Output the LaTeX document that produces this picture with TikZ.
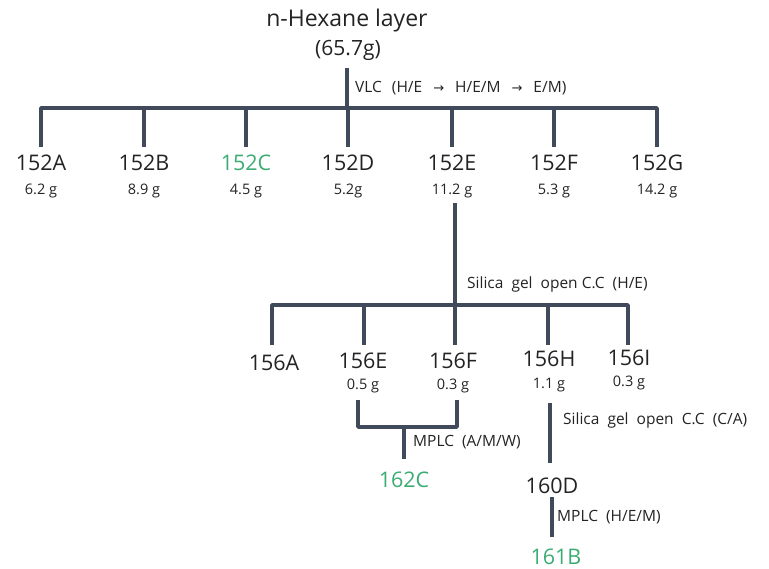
\documentclass[tikz,border=0pt]{standalone}
\usepackage{fontspec}
\setmainfont{Open Sans}
\newfontfamily\arrowfont{DejaVu Sans}
\definecolor{linec}{RGB}{64,74,90}
\definecolor{greenc}{RGB}{60,172,115}
\definecolor{textc}{RGB}{35,35,35}
\newcommand{\ar}{\hspace{11pt}{\arrowfont\fontsize{13}{15}\selectfont →}\hspace{11pt}}
\begin{document}
\begin{tikzpicture}[x=1pt,y=-1pt,
  br/.style={line width=3.8pt, color=linec, line join=round},
  big/.style={inner sep=0pt, text=textc, font=\fontsize{21.5}{24}\selectfont},
  title/.style={inner sep=0pt, text=textc, font=\fontsize{23}{26}\selectfont},
  gram/.style={inner sep=0pt, text=textc, font=\fontsize{14.5}{17}\selectfont},
  note/.style={inner sep=0pt, anchor=west, text=textc, font=\fontsize{15.5}{18}\selectfont},
  hl/.style={text=greenc}]
\useasboundingbox (0,0) rectangle (769,569);
% title
\node[title] (hex) at (347,21) {n-Hexane layer};
\node[title, font=\fontsize{21}{24}\selectfont] (hexw) at (348,50) {(65.7g)};
\coordinate (t0) at (347,68);
\coordinate (t1) at (347,108);
\draw[br] (t0) -- (t1);
\node[note] (vlc) at (355,88) {VLC\hspace{10pt}(H/E\ar H/E/M\ar E/M)};
% first level
\foreach \n/\x/\w/\c in {A/41/6.2 g/textc, B/144/8.9 g/textc, C/246/4.5 g/greenc, D/348/5.2g/textc, E/452/11.2 g/textc, F/554/5.3 g/textc, G/657/14.2 g/textc}{
  \coordinate (d\n) at (\x,147);
  \node[big, text=\c] (L\n) at (\x,163) {152\n};
  \node[gram] (W\n) at (\x,191) {\w};
}
\draw[br] (dA) -- (dA |- t1) -- (dG |- t1) -- (dG);
\foreach \n in {B,C,D,E,F}{ \draw[br] (d\n) -- (d\n |- t1); }
% second level
\coordinate (s0) at (455,203);
\coordinate (s1) at (455,305);
\draw[br] (s0) -- (s1);
\node[note] (sil1) at (467,284) {Silica\ \ gel\ \ open\ C.C\ \ (H/E)};
\foreach \n/\x in {A/272,E/364,F/455,H/548,I/628}{
  \coordinate (e\n) at (\x,345);
}
\draw[br] (eA) -- (eA |- s1) -- (eI |- s1) -- (eI);
\foreach \n in {E,F,H}{ \draw[br] (e\n) -- (e\n |- s1); }
\node[big] (mA) at (274,363) {156A};
\node[big] (mE) at (363,361) {156E};
\node[big] (mF) at (453,361) {156F};
\node[big] (mH) at (549,359) {156H};
\node[big] (mI) at (629,358) {156I};
\node[gram] (gE) at (363,386) {0.5\ g};
\node[gram] (gF) at (453,386) {0.3\ g};
\node[gram] (gH) at (549,385) {1.1\ g};
\node[gram] (gI) at (629,383) {0.3\ g};
% bracket 156E + 156F
\coordinate (bl) at (358,400);
\coordinate (brr) at (457,400);
\coordinate (bm) at (404,427);
\coordinate (bb) at (404,459);
\draw[br] (bl) |- (bm) -| (brr);
\draw[br] (bm) -- (bb);
\node[note] (mplc1) at (413,442) {MPLC\ \ (A/M/W)};
\node[big, hl] (c162) at (404,480) {162C};
% 156H -> 160D
\coordinate (h0) at (550,403);
\coordinate (h1) at (550,463);
\draw[br] (h0) -- (h1);
\node[note] (sil2) at (563,420) {Silica\ \ gel\ \ open\ \ C.C\ \ (C/A)};
\node[big] (d160) at (552,486) {160D};
\coordinate (k0) at (552,497);
\coordinate (k1) at (552,537);
\draw[br] (k0) -- (k1);
\node[note] (mplc2) at (557,517) {MPLC\ \ (H/E/M)};
\node[big, hl] (b161) at (556,557) {161B};
\end{tikzpicture}
\end{document}
